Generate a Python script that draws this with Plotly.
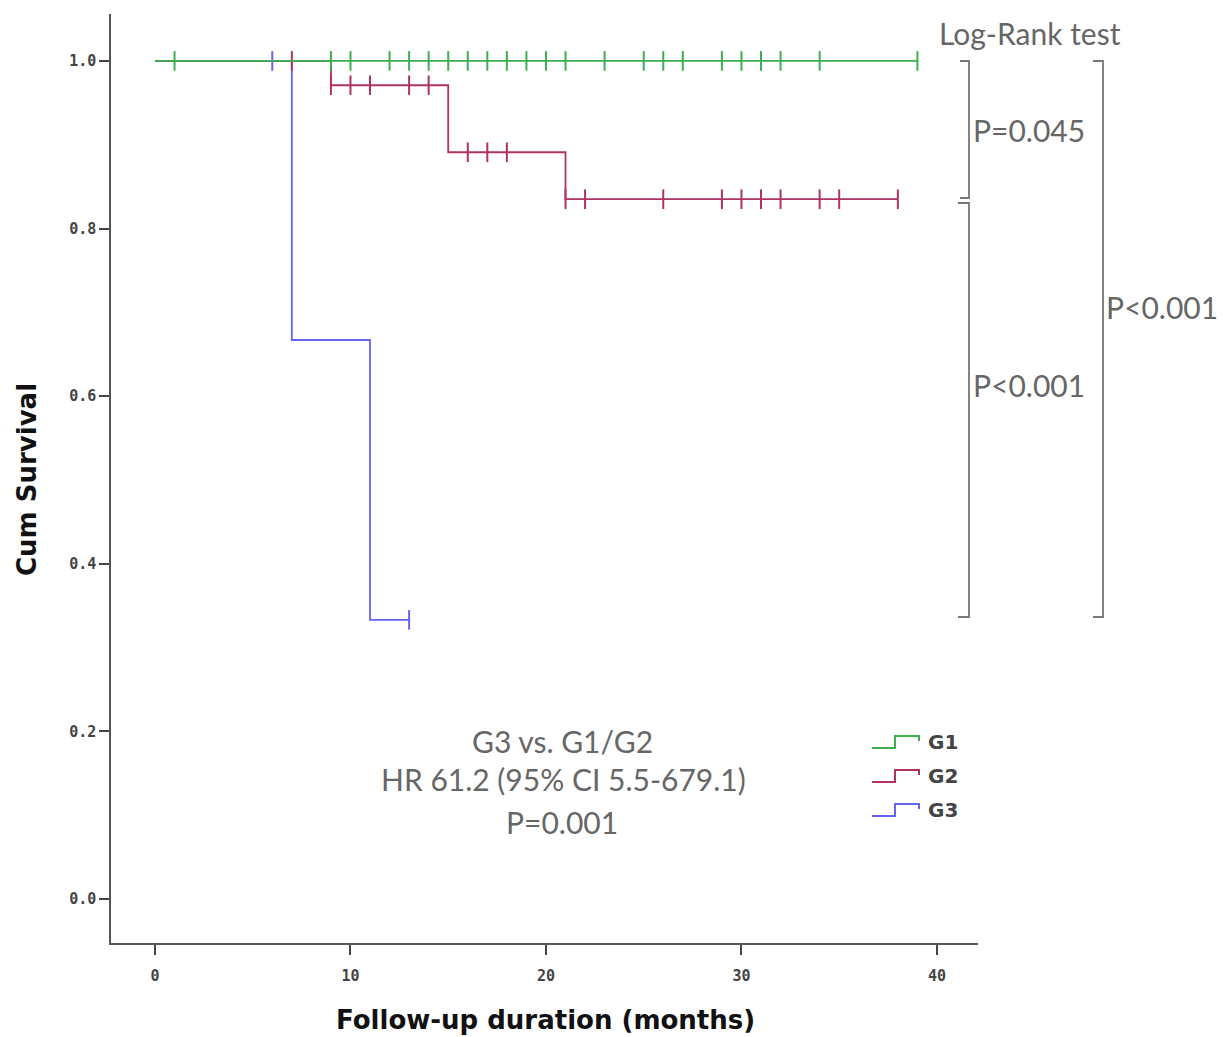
import plotly.graph_objects as go
import numpy as np

# ---------------- data ----------------
groups = ["G1", "G2", "G3"]
g1_time = [0, 39]
g1_surv = [1.0, 1.0]
g1_cens = [1, 9, 10, 12, 13, 14, 15, 16, 17, 18, 19, 20, 21, 23, 25, 26, 27, 29, 30, 31, 32, 34, 39]

g2_time = [0, 9, 15, 21, 38]
g2_surv = [1.0, 0.971, 0.891, 0.835, 0.835]
g2_cens = [7, 9, 10, 11, 13, 14, 16, 17, 18, 21, 22, 26, 29, 30, 31, 32, 34, 35, 38]

g3_time = [0, 7, 11, 13]
g3_surv = [1.0, 0.667, 0.333, 0.333]
g3_cens = [6, 13]

x_ticks = [0, 10, 20, 30, 40]
y_ticks = [0.0, 0.2, 0.4, 0.6, 0.8, 1.0]

colors = {"G1": "rgb(60,175,80)", "G2": "rgb(175,50,100)", "G3": "rgb(100,100,240)"}

series = {
    "G1": (g1_time, g1_surv, g1_cens),
    "G2": (g2_time, g2_surv, g2_cens),
    "G3": (g3_time, g3_surv, g3_cens),
}

# ---------------- layout geometry ----------------
W, H = 1223, 1037
L, R, T, B = 111, 978, 14, 943


def px(xp):
    return (xp - L) / (R - L)


def py(yp):
    return (B - yp) / (B - T)


def step_value(t, times, surv):
    idx = np.searchsorted(times, t, side="right") - 1
    return surv[max(idx, 0)]


fig = go.Figure()

for g in ["G3", "G2", "G1"]:
    t, s, c = series[g]
    col = colors[g]
    fig.add_trace(go.Scatter(x=t, y=s, mode="lines", line=dict(color=col, width=1.8, shape="hv"),
                             showlegend=False, hoverinfo="skip"))
    cy = [step_value(ct, t, s) for ct in c]
    fig.add_trace(go.Scatter(x=c, y=cy, mode="markers",
                             marker=dict(symbol="line-ns-open", size=14, color=col,
                                         line=dict(color=col, width=2)),
                             showlegend=False, hoverinfo="skip"))

gray = "#666666"
shapes = []


def bracket(xv, xt, y0, y1):
    return dict(type="path", xref="paper", yref="paper",
                path=f"M {px(xt)},{py(y0)} L {px(xv)},{py(y0)} L {px(xv)},{py(y1)} L {px(xt)},{py(y1)}",
                line=dict(color="#777777", width=1.8))


shapes.append(bracket(969, 960, 61, 198))
shapes.append(bracket(969, 958, 203, 617))
shapes.append(bracket(1103, 1093, 61, 617))

# legend icons (step glyphs)
legend_y = {"G1": 742, "G2": 776, "G3": 810}
annotations = []
for g in groups:
    yc = legend_y[g]
    path = (f"M {px(872)},{py(yc+6)} L {px(895)},{py(yc+6)} L {px(895)},{py(yc-6)} "
            f"L {px(919)},{py(yc-6)} L {px(919)},{py(yc-1)}")
    shapes.append(dict(type="path", xref="paper", yref="paper", path=path,
                       line=dict(color=colors[g], width=2)))
    annotations.append(dict(x=px(926), y=py(yc), xref="paper", yref="paper", text=f"<b>{g}</b>",
                            showarrow=False, xanchor="left", yanchor="middle",
                            font=dict(family="DejaVu Sans", size=20, color="#444444")))

txtfont = dict(family="Lato, Open Sans", size=30, color=gray)
annotations += [
    dict(x=px(1030), y=py(33), text="Log-Rank test", xanchor="center"),
    dict(x=px(971), y=py(130), text="P=0.045", xanchor="left"),
    dict(x=px(971), y=py(385), text="P<0.001", xanchor="left"),
    dict(x=px(1104), y=py(307), text="P<0.001", xanchor="left"),
    dict(x=px(562), y=py(741), text="G3 vs. G1/G2", xanchor="center"),
    dict(x=px(563), y=py(779), text="HR 61.2 (95% CI 5.5-679.1)", xanchor="center"),
    dict(x=px(562), y=py(822), text="P=0.001", xanchor="center"),
]
for a in annotations[len(groups):]:
    a.update(xref="paper", yref="paper", showarrow=False, yanchor="middle", font=txtfont)

annotations += [
    dict(x=px(545), y=py(1020), xref="paper", yref="paper", text="<b>Follow-up duration (months)</b>",
         showarrow=False, xanchor="center", yanchor="middle",
         font=dict(family="DejaVu Sans", size=26, color="#111111")),
    dict(x=px(27), y=py(480), xref="paper", yref="paper", text="<b>Cum Survival</b>", textangle=-90,
         showarrow=False, xanchor="center", yanchor="middle",
         font=dict(family="DejaVu Sans", size=26, color="#111111")),
]

axis_common = dict(showgrid=False, zeroline=False, showline=True, linecolor="#555555", linewidth=1.5,
                   ticks="outside", ticklen=10, tickwidth=1.5, tickcolor="#444444",
                   tickfont=dict(family="DejaVu Sans Mono, Liberation Mono", size=15, color="#444444",
                                 weight="bold"))

fig.update_layout(
    width=W, height=H,
    margin=dict(l=L, r=W - R, t=T, b=H - B),
    plot_bgcolor="white", paper_bgcolor="white",
    xaxis=dict(range=[-2.25, 42.1], tickvals=x_ticks, ticktext=[str(v) for v in x_ticks],
               ticklabelstandoff=8, **axis_common),
    yaxis=dict(range=[-0.0526, 1.056], tickvals=y_ticks, ticktext=[f"{v:.1f}" for v in y_ticks],
               **axis_common),
    shapes=shapes,
    annotations=annotations,
    showlegend=False,
)

fig.write_html("out.html")
